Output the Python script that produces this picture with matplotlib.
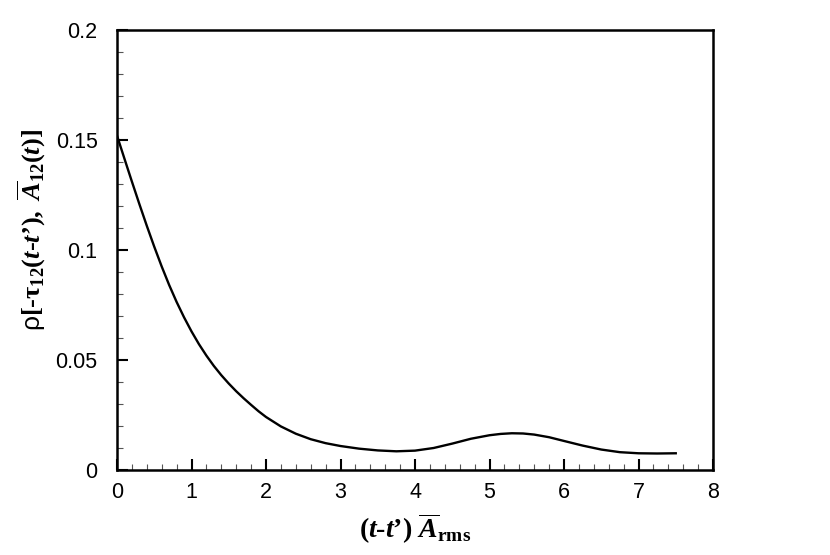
import matplotlib
matplotlib.use("Agg")
import matplotlib.pyplot as plt
from matplotlib.ticker import MultipleLocator

# values
lag = [0.0, 0.1, 0.2, 0.3, 0.4, 0.5, 0.6, 0.7, 0.8, 0.9, 1.0, 1.1, 1.2, 1.3, 1.4,
       1.5, 1.6, 1.7, 1.8, 1.9, 2.0, 2.2, 2.4, 2.6, 2.8, 3.0, 3.25, 3.5, 3.75,
       4.0, 4.25, 4.5, 4.75, 5.0, 5.15, 5.3, 5.45, 5.6, 5.8, 6.0, 6.25, 6.5,
       6.75, 7.0, 7.25, 7.5]
rho = [0.1520, 0.1415, 0.1311, 0.1209, 0.1110, 0.1015, 0.0925, 0.0841, 0.0764,
       0.0694, 0.0630, 0.0572, 0.0520, 0.0473, 0.0431, 0.0393, 0.0358, 0.0326,
       0.0296, 0.0267, 0.0241, 0.0198, 0.0165, 0.0140, 0.0122, 0.0109, 0.0097,
       0.0089, 0.0085, 0.0088, 0.0100, 0.0120, 0.0142, 0.0158, 0.0164, 0.0167,
       0.0166, 0.0161, 0.0149, 0.0132, 0.0111, 0.0093, 0.0081, 0.0076, 0.0075,
       0.0076]
xticks = [0, 1, 2, 3, 4, 5, 6, 7, 8]
yticks = [0, 0.05, 0.1, 0.15, 0.2]
ytick_labels = ['0', '0.05', '0.1', '0.15', '0.2']

plt.rcParams['font.family'] = ['Liberation Sans', 'DejaVu Sans']
plt.rcParams['mathtext.fontset'] = 'custom'
plt.rcParams['mathtext.rm'] = 'Liberation Serif:bold'
plt.rcParams['mathtext.it'] = 'Liberation Serif:italic:bold'
plt.rcParams['mathtext.bf'] = 'Liberation Serif:bold'
plt.rcParams['mathtext.sf'] = 'Liberation Sans'


def main():
    fig = plt.figure(figsize=(8.3, 5.55), dpi=100)
    ax = fig.add_axes([117 / 830, 85 / 555, 596 / 830, 440 / 555])

    ax.plot(lag, rho, color='black', linewidth=1.7)

    ax.set_xlim(0, 8)
    ax.set_ylim(0, 0.2)
    ax.set_xticks(xticks)
    ax.set_xticklabels([str(v) for v in xticks])
    ax.set_yticks(yticks)
    ax.set_yticklabels(ytick_labels)
    ax.xaxis.set_minor_locator(MultipleLocator(0.2))
    ax.yaxis.set_minor_locator(MultipleLocator(0.01))

    ax.tick_params(which='both', direction='in', top=False, right=False,
                   labelsize=15.5)
    ax.tick_params(axis='x', pad=9)
    ax.tick_params(axis='y', pad=14)
    ax.tick_params(which='major', length=8, width=1.5)
    ax.tick_params(which='minor', length=4, width=0.8, color='#555555')
    for s in ax.spines.values():
        s.set_linewidth(1.8)

    ax.set_xlabel(r"$\mathrm{(}t\mathrm{‐}t\mathrm{’)\ }\overline{A}_{\mathrm{rms}}$",
                  fontsize=20, labelpad=6)
    ax.set_ylabel(r"$\mathsf{\rho}\mathrm{[‐\tau_{12}(}t\mathrm{‐}t\mathrm{’),\ }"
                  r"\overline{A}_{\mathrm{12}}\mathrm{(}t\mathrm{)]}$",
                  fontsize=19)
    ax.yaxis.set_label_coords(-0.115, 0.545)

    fig.savefig("out.png", dpi=100)


if __name__ == "__main__":
    main()
